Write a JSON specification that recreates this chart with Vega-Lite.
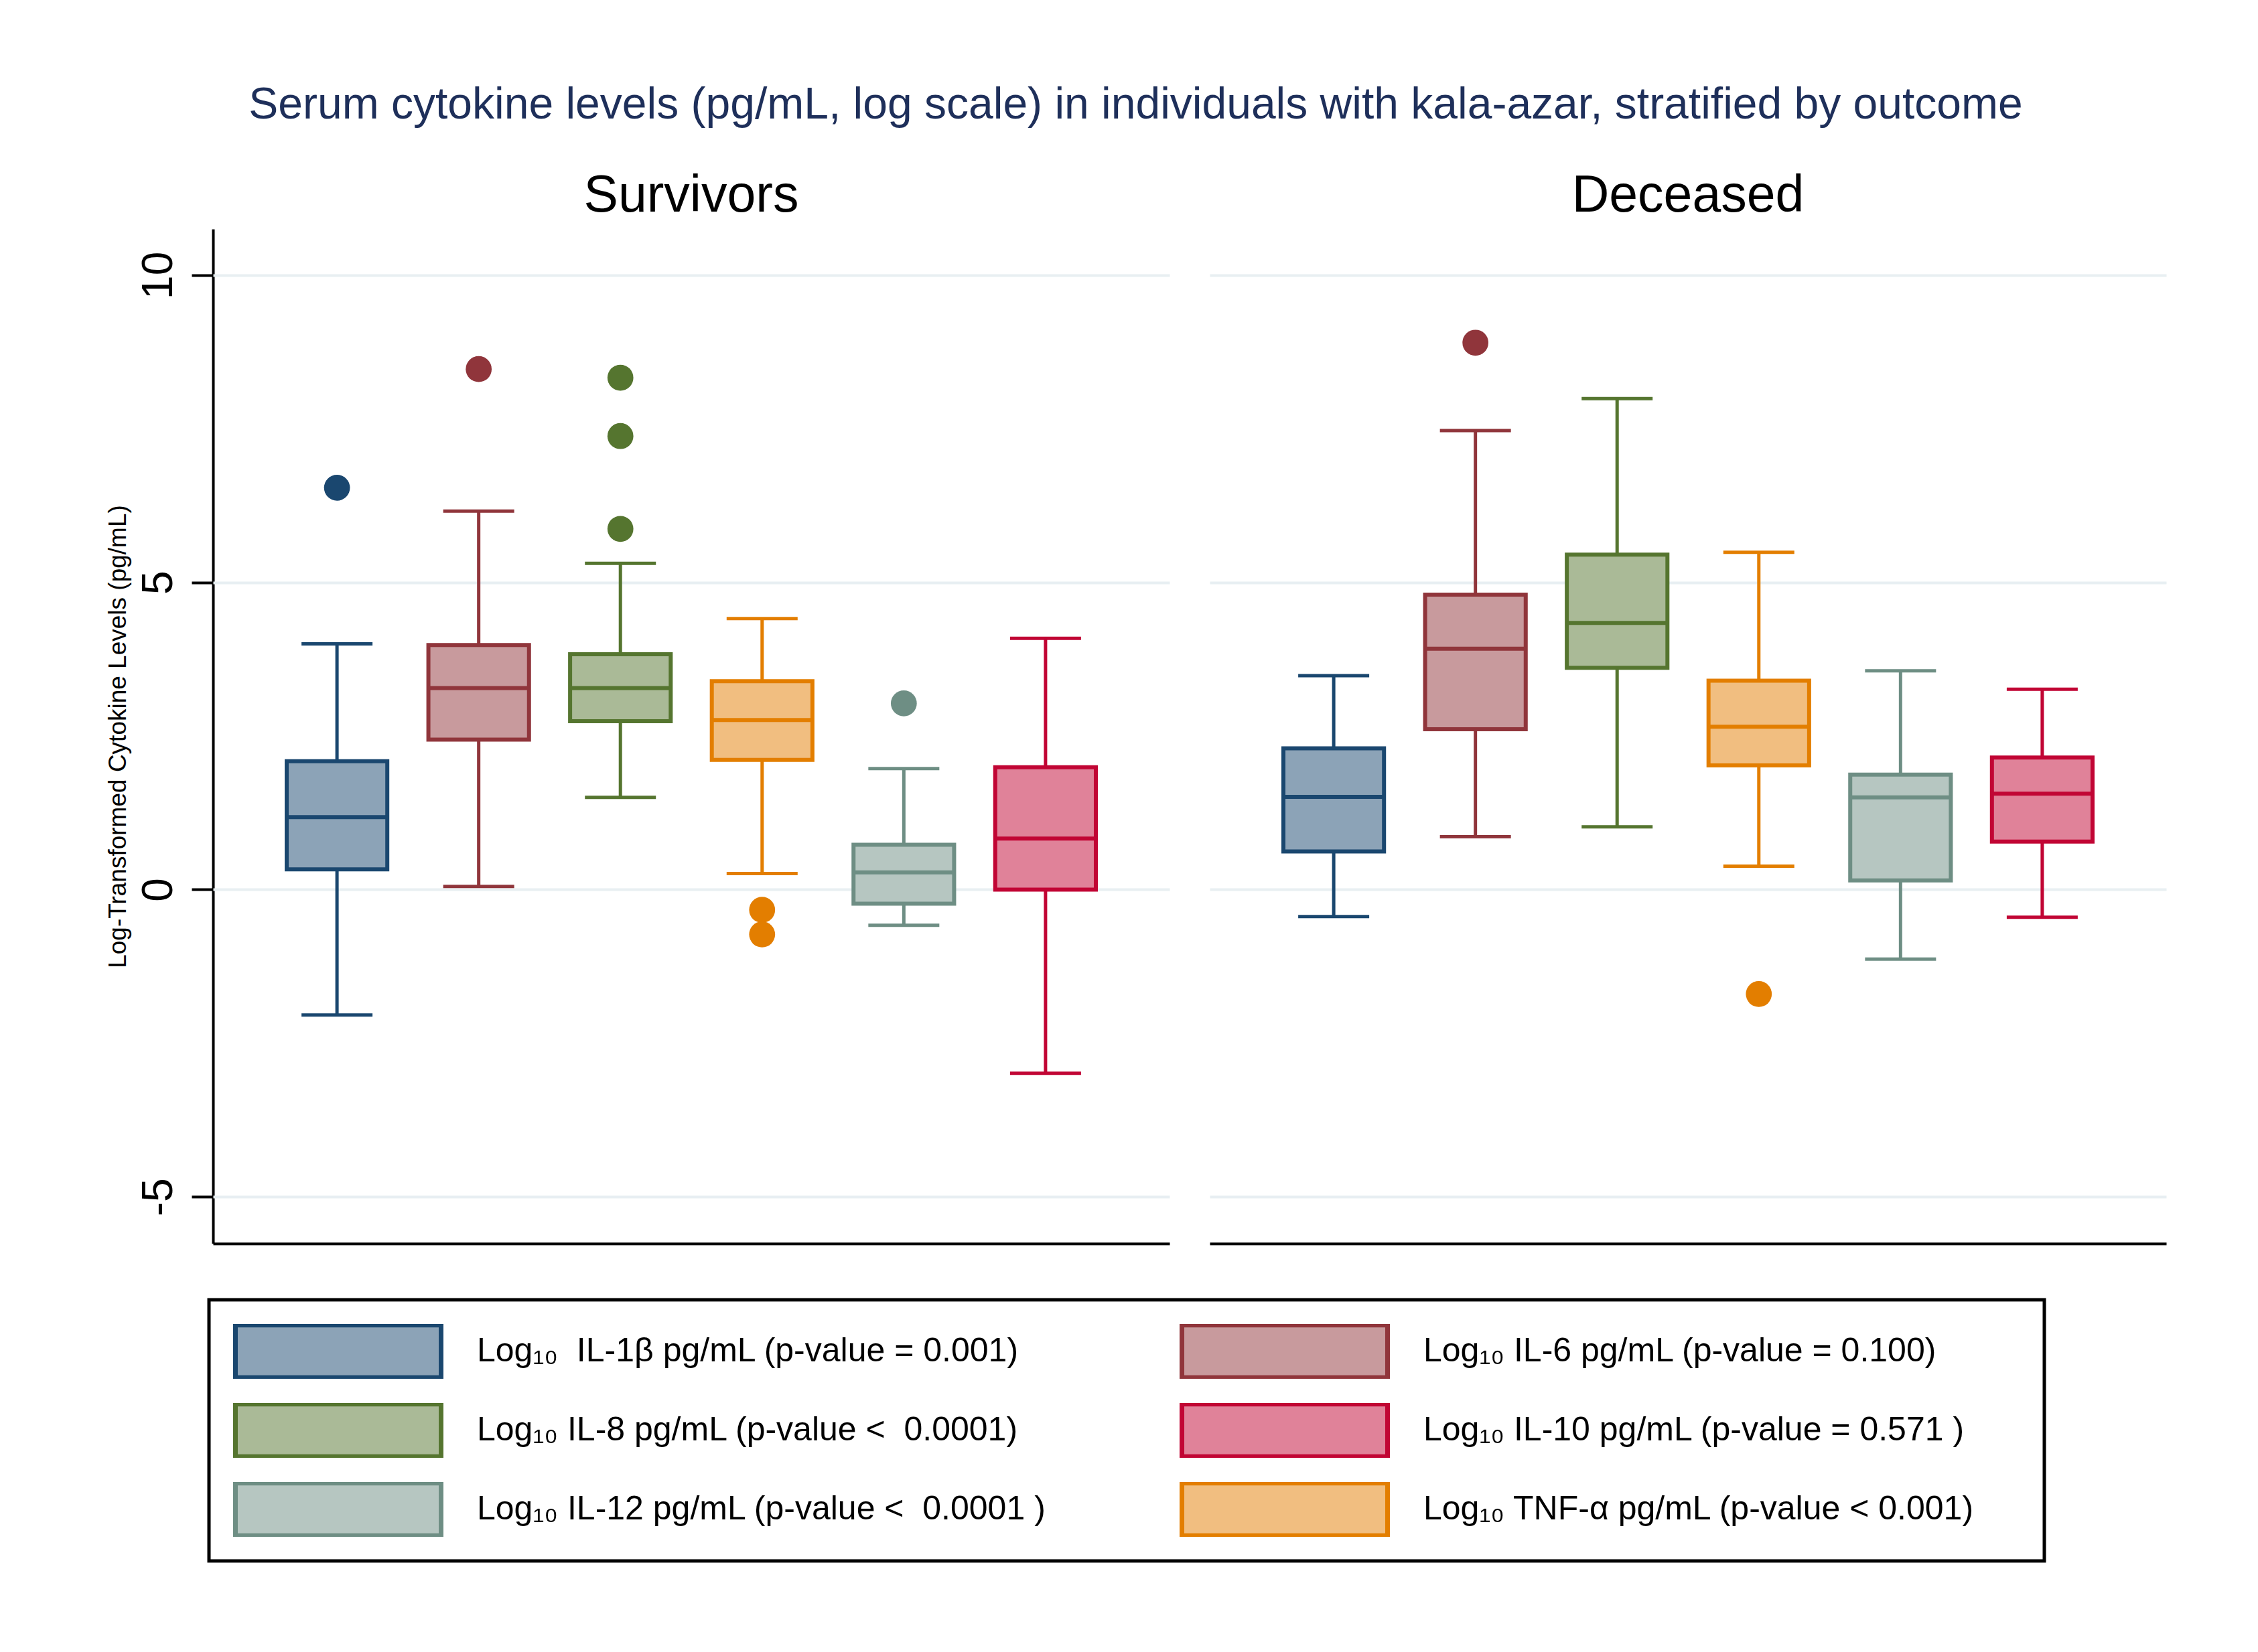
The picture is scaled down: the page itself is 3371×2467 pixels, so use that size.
{
  "$schema": "https://vega.github.io/schema/vega-lite/v6.json",
  "background": "white",
  "padding": {"left": 157, "top": 124, "right": 20, "bottom": 20},
  "title": {"text": "Serum cytokine levels (pg/mL, log scale) in individuals with kala-azar, stratified by outcome", "fontSize": 66, "font": "Liberation Sans", "fontWeight": "normal", "color": "#1e2f5a", "anchor": "middle", "offset": 63},
  "data": {"values": [
    {"o": "Survivors", "c": "Log₁₀\u00a0 IL-1β pg/mL (p-value = 0.001)", "lo": -2.04, "q1": 0.33, "med": 1.18, "q3": 2.09, "hi": 4.00},
    {"o": "Survivors", "c": "Log₁₀ IL-6 pg/mL (p-value = 0.100)", "lo": 0.05, "q1": 2.44, "med": 3.28, "q3": 3.98, "hi": 6.16},
    {"o": "Survivors", "c": "Log₁₀ IL-8 pg/mL (p-value <\u00a0 0.0001)", "lo": 1.50, "q1": 2.74, "med": 3.28, "q3": 3.83, "hi": 5.31},
    {"o": "Survivors", "c": "Log₁₀ TNF-α pg/mL (p-value < 0.001)", "lo": 0.26, "q1": 2.11, "med": 2.76, "q3": 3.39, "hi": 4.41},
    {"o": "Survivors", "c": "Log₁₀ IL-12 pg/mL (p-value <\u00a0 0.0001 )", "lo": -0.58, "q1": -0.23, "med": 0.28, "q3": 0.73, "hi": 1.97},
    {"o": "Survivors", "c": "Log₁₀ IL-10 pg/mL (p-value = 0.571 )", "lo": -2.99, "q1": 0.00, "med": 0.83, "q3": 1.99, "hi": 4.09},
    {"o": "Deceased", "c": "Log₁₀\u00a0 IL-1β pg/mL (p-value = 0.001)", "lo": -0.44, "q1": 0.62, "med": 1.51, "q3": 2.30, "hi": 3.48},
    {"o": "Deceased", "c": "Log₁₀ IL-6 pg/mL (p-value = 0.100)", "lo": 0.86, "q1": 2.61, "med": 3.92, "q3": 4.80, "hi": 7.47},
    {"o": "Deceased", "c": "Log₁₀ IL-8 pg/mL (p-value <\u00a0 0.0001)", "lo": 1.02, "q1": 3.61, "med": 4.34, "q3": 5.45, "hi": 7.99},
    {"o": "Deceased", "c": "Log₁₀ TNF-α pg/mL (p-value < 0.001)", "lo": 0.38, "q1": 2.02, "med": 2.65, "q3": 3.40, "hi": 5.49},
    {"o": "Deceased", "c": "Log₁₀ IL-12 pg/mL (p-value <\u00a0 0.0001 )", "lo": -1.13, "q1": 0.15, "med": 1.50, "q3": 1.87, "hi": 3.56},
    {"o": "Deceased", "c": "Log₁₀ IL-10 pg/mL (p-value = 0.571 )", "lo": -0.45, "q1": 0.78, "med": 1.56, "q3": 2.15, "hi": 3.26},
    {"o": "Survivors", "c": "Log₁₀\u00a0 IL-1β pg/mL (p-value = 0.001)", "v": 6.54},
    {"o": "Survivors", "c": "Log₁₀ IL-6 pg/mL (p-value = 0.100)", "v": 8.47},
    {"o": "Survivors", "c": "Log₁₀ IL-8 pg/mL (p-value <\u00a0 0.0001)", "v": 8.33},
    {"o": "Survivors", "c": "Log₁₀ IL-8 pg/mL (p-value <\u00a0 0.0001)", "v": 7.38},
    {"o": "Survivors", "c": "Log₁₀ IL-8 pg/mL (p-value <\u00a0 0.0001)", "v": 5.87},
    {"o": "Survivors", "c": "Log₁₀ TNF-α pg/mL (p-value < 0.001)", "v": -0.33},
    {"o": "Survivors", "c": "Log₁₀ TNF-α pg/mL (p-value < 0.001)", "v": -0.73},
    {"o": "Survivors", "c": "Log₁₀ IL-12 pg/mL (p-value <\u00a0 0.0001 )", "v": 3.03},
    {"o": "Deceased", "c": "Log₁₀ IL-6 pg/mL (p-value = 0.100)", "v": 8.90},
    {"o": "Deceased", "c": "Log₁₀ TNF-α pg/mL (p-value < 0.001)", "v": -1.70}
  ]},
  "facet": {"column": {"field": "o", "type": "nominal", "sort": ["Survivors", "Deceased"],
    "header": {"title": null, "labelFontSize": 77, "labelFont": "Liberation Sans", "labelColor": "black", "labelPadding": 10}}},
  "spacing": 60,
  "spec": {
    "width": 1428,
    "height": 1515,
    "encoding": {
      "x": {"field": "c", "type": "nominal",
        "sort": ["Log₁₀\u00a0 IL-1β pg/mL (p-value = 0.001)", "Log₁₀ IL-6 pg/mL (p-value = 0.100)", "Log₁₀ IL-8 pg/mL (p-value <\u00a0 0.0001)", "Log₁₀ TNF-α pg/mL (p-value < 0.001)", "Log₁₀ IL-12 pg/mL (p-value <\u00a0 0.0001 )", "Log₁₀ IL-10 pg/mL (p-value = 0.571 )"],
        "scale": {"paddingInner": 0.29, "paddingOuter": 0.52},
        "axis": {"labels": false, "ticks": false, "title": null, "domainColor": "black", "domainWidth": 4, "grid": false}}
    },
    "layer": [
      {
        "transform": [{"filter": "isValid(datum.med)"}],
        "mark": {"type": "rule", "strokeWidth": 5},
        "encoding": {
          "y": {"field": "lo", "type": "quantitative", "title": "Log-Transformed Cytokine Levels (pg/mL)",
            "scale": {"domain": [-5.76, 10.75], "nice": false, "zero": false},
            "axis": {"values": [-5, 0, 5, 10], "labelExpr": "datum.value < 0 ? '-' + format(-datum.value, 'd') : format(datum.value, 'd')",
              "labelAngle": -90, "labelFontSize": 64, "labelFont": "Liberation Sans", "labelColor": "black", "labelPadding": 17,
              "tickSize": 32, "tickWidth": 4, "tickColor": "black", "domainColor": "black", "domainWidth": 4,
              "grid": true, "gridColor": "#e8eff2", "gridWidth": 4,
              "titleFontSize": 37, "titleFont": "Liberation Sans", "titleFontWeight": "normal", "titleColor": "black", "titlePadding": 10}},
          "y2": {"field": "hi"},
          "color": {"field": "c", "type": "nominal", "legend": null,
            "scale": {"domain": ["Log₁₀\u00a0 IL-1β pg/mL (p-value = 0.001)", "Log₁₀ IL-6 pg/mL (p-value = 0.100)", "Log₁₀ IL-8 pg/mL (p-value <\u00a0 0.0001)", "Log₁₀ TNF-α pg/mL (p-value < 0.001)", "Log₁₀ IL-12 pg/mL (p-value <\u00a0 0.0001 )", "Log₁₀ IL-10 pg/mL (p-value = 0.571 )"],
              "range": ["#1a476f", "#90353b", "#55752f", "#e37e00", "#6e8e84", "#c10534"]}}
        }
      },
      {
        "transform": [{"filter": "isValid(datum.med)"}],
        "mark": {"type": "tick", "size": 106, "thickness": 5},
        "encoding": {
          "y": {"field": "lo", "type": "quantitative", "title": "Log-Transformed Cytokine Levels (pg/mL)"},
          "color": {"field": "c", "type": "nominal", "legend": null}
        }
      },
      {
        "transform": [{"filter": "isValid(datum.med)"}],
        "mark": {"type": "tick", "size": 106, "thickness": 5},
        "encoding": {
          "y": {"field": "hi", "type": "quantitative", "title": "Log-Transformed Cytokine Levels (pg/mL)"},
          "color": {"field": "c", "type": "nominal", "legend": null}
        }
      },
      {
        "transform": [{"filter": "isValid(datum.med)"}],
        "mark": {"type": "bar", "strokeWidth": 6, "opacity": 1},
        "encoding": {
          "y": {"field": "q1", "type": "quantitative", "title": "Log-Transformed Cytokine Levels (pg/mL)"},
          "y2": {"field": "q3"},
          "fill": {"field": "c", "type": "nominal", "title": "\u00a0",
            "scale": {"domain": ["Log₁₀\u00a0 IL-1β pg/mL (p-value = 0.001)", "Log₁₀ IL-8 pg/mL (p-value <\u00a0 0.0001)", "Log₁₀ IL-12 pg/mL (p-value <\u00a0 0.0001 )", "Log₁₀ IL-6 pg/mL (p-value = 0.100)", "Log₁₀ IL-10 pg/mL (p-value = 0.571 )", "Log₁₀ TNF-α pg/mL (p-value < 0.001)"],
              "range": ["#8ca3b7", "#aaba97", "#b6c6c1", "#c89a9d", "#e08299", "#f1be80"]},
            "legend": {"orient": "none", "legendX": -6, "legendY": 1599, "columns": 2, "columnPadding": 198, "rowPadding": 36, "clipHeight": 82,
              "symbolType": "M-1,-0.255H1V0.255H-1Z", "symbolSize": 94249, "symbolStrokeWidth": 7, "symbolOpacity": 1,
              "labelFontSize": 50, "labelFont": "Liberation Sans", "labelColor": "black", "labelOffset": 50, "labelLimit": 2000,
              "titleOrient": "right", "titleFontSize": 8, "titlePadding": 67,
              "strokeColor": "black", "fillColor": "white", "padding": 36,
              "encode": {"legend": {"update": {"strokeWidth": {"value": 5}}}}}},
          "stroke": {"field": "c", "type": "nominal", "title": "\u00a0",
            "scale": {"domain": ["Log₁₀\u00a0 IL-1β pg/mL (p-value = 0.001)", "Log₁₀ IL-8 pg/mL (p-value <\u00a0 0.0001)", "Log₁₀ IL-12 pg/mL (p-value <\u00a0 0.0001 )", "Log₁₀ IL-6 pg/mL (p-value = 0.100)", "Log₁₀ IL-10 pg/mL (p-value = 0.571 )", "Log₁₀ TNF-α pg/mL (p-value < 0.001)"],
              "range": ["#1a476f", "#55752f", "#6e8e84", "#90353b", "#c10534", "#e37e00"]},
            "legend": {"orient": "none", "legendX": -6, "legendY": 1599, "columns": 2, "columnPadding": 198, "rowPadding": 36, "clipHeight": 82,
              "symbolType": "M-1,-0.255H1V0.255H-1Z", "symbolSize": 94249, "symbolStrokeWidth": 7, "symbolOpacity": 1,
              "labelFontSize": 50, "labelFont": "Liberation Sans", "labelColor": "black", "labelOffset": 50, "labelLimit": 2000,
              "titleOrient": "right", "titleFontSize": 8, "titlePadding": 67,
              "strokeColor": "black", "fillColor": "white", "padding": 36,
              "encode": {"legend": {"update": {"strokeWidth": {"value": 5}}}}}}
        }
      },
      {
        "transform": [{"filter": "isValid(datum.med)"}],
        "mark": {"type": "tick", "size": 152, "thickness": 6},
        "encoding": {
          "y": {"field": "med", "type": "quantitative", "title": "Log-Transformed Cytokine Levels (pg/mL)"},
          "color": {"field": "c", "type": "nominal", "legend": null}
        }
      },
      {
        "transform": [{"filter": "isValid(datum.v)"}],
        "mark": {"type": "point", "filled": true, "shape": "circle", "size": 1500, "opacity": 1},
        "encoding": {
          "y": {"field": "v", "type": "quantitative", "title": "Log-Transformed Cytokine Levels (pg/mL)"},
          "color": {"field": "c", "type": "nominal", "legend": null}
        }
      }
    ]
  },
  "config": {
    "view": {"stroke": null},
    "font": "Liberation Sans",
    "tick": {"opacity": 1},
    "rule": {"opacity": 1}
  }
}
